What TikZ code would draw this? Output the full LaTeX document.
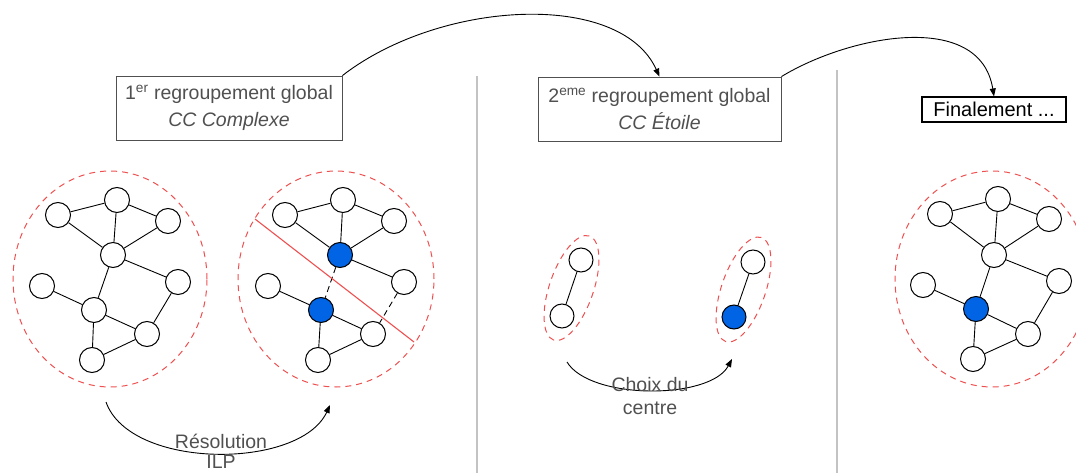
\documentclass[tikz,border=0pt]{standalone}
\usepackage{fontspec}
\setmainfont{Liberation Sans}
\usetikzlibrary{arrows.meta}
\definecolor{nodeblue}{RGB}{0,100,228}
\definecolor{dashred}{RGB}{238,80,80}
\definecolor{sepgray}{RGB}{195,195,195}
\definecolor{txtgray}{RGB}{80,80,80}
\tikzset{
  vtx/.style={circle,draw=black,line width=1pt,fill=white,minimum size=25pt,inner sep=0pt},
  vtxb/.style={vtx,fill=nodeblue},
  edge/.style={line width=0.9pt,black},
  dedge/.style={edge,dash pattern=on 6pt off 4pt},
  grp/.style={draw=dashred,line width=1pt,dash pattern=on 6pt off 5pt},
  cut/.style={draw=dashred,line width=1.1pt},
  sep/.style={draw=sepgray,line width=1.6pt},
  stagebox/.style={draw=txtgray,line width=0.9pt,text=txtgray,align=center,inner sep=0pt,
    font=\fontsize{19.5}{23}\selectfont},
  finbox/.style={draw=black,line width=1.1pt,text=black,inner sep=0pt,
    font=\fontsize{20}{23}\selectfont},
  lbl/.style={text=txtgray,align=center,inner sep=0pt,font=\fontsize{19.5}{21}\selectfont},
  arr/.style={line width=0.9pt,-{Triangle[length=8pt,width=6pt]}}
}
\begin{document}
\begin{tikzpicture}[x=1pt,y=-1pt]
\useasboundingbox (0,0) rectangle (1076,473);

% separators
\coordinate (s1t) at (477,76);  \coordinate (s1b) at (477,473);
\coordinate (s2t) at (837,70);  \coordinate (s2b) at (837,473);
\draw[sep] (s1t) -- (s1b);
\draw[sep] (s2t) -- (s2b);

% boxes
\node[stagebox,minimum width=226pt,minimum height=64pt] (box1) at (229,108)
  {1\textsuperscript{er} regroupement global\\[4pt]\textit{CC Complexe}};
\node[stagebox,minimum width=243pt,minimum height=64pt] (box2) at (659.5,109)
  {2\textsuperscript{eme} regroupement global\\[4pt]\textit{CC Étoile}};
\node[finbox,minimum width=144pt,minimum height=25pt] (box3) at (994,109.5)
  {Finalement ...};

\draw[arr] (box1.north east) .. controls (440,0) and (620,-10) .. (box2.north);
\draw[arr] (box2.north east) .. controls (850,35) and (980,10) .. (box3.north);

% graph 1
\draw[grp] (110,279) ellipse [x radius=97pt, y radius=108pt];
\foreach \n/\x/\y in {a/58/215,b/117/200,c/168/221,d/113/255,e/42/286,f/178/282,g/94/310,h/147/334,i/92/360}
  \node[vtx] (g1\n) at (\x,\y) {};
\foreach \u/\v in {a/b,b/c,a/d,b/d,c/d,d/f,d/g,e/g,g/h,g/i,h/i,f/h}
  \draw[edge] (g1\u) -- (g1\v);

% graph 2
\draw[grp] (336,279) ellipse [x radius=98pt, y radius=108pt];
\foreach \n/\x/\y/\s in {a/285/215/vtx,b/343/200/vtx,c/394/221/vtx,d/340/255/vtxb,e/268/286/vtx,f/404/282/vtx,g/321/310/vtxb,h/373/334/vtx,i/318/360/vtx}
  \node[\s] (g2\n) at (\x,\y) {};
\foreach \u/\v in {a/b,b/c,a/d,b/d,c/d,d/f,e/g,g/h,g/i,h/i}
  \draw[edge] (g2\u) -- (g2\v);
\draw[dedge] (g2d) -- (g2g);
\draw[dedge] (g2f) -- (g2h);
\coordinate (cuta) at (255,219);
\coordinate (cutb) at (414,342);
\draw[cut] (cuta) -- (cutb);

% arrow Resolution ILP
\coordinate (r1) at (106,402);
\coordinate (r2) at (330,405);
\draw[arr] (r1) .. controls (130,470) and (300,470) .. (r2);
\node[lbl] (res) at (221,451) {Résolution\\[-1pt]ILP};

% graph 3
\draw[grp,rotate around={71:(571.5,288)}] (571.5,288) ellipse [x radius=55pt, y radius=22pt];
\draw[grp,rotate around={71:(743.5,289.5)}] (743.5,289.5) ellipse [x radius=55pt, y radius=22pt];
\node[vtx,minimum size=24pt] (g3a) at (581,260) {};
\node[vtx,minimum size=24pt] (g3b) at (562,316) {};
\node[vtx,minimum size=24pt] (g3c) at (753,262) {};
\node[vtxb,minimum size=24pt] (g3d) at (734,317) {};
\draw[edge] (g3a) -- (g3b);
\draw[edge] (g3c) -- (g3d);
\coordinate (c1) at (567,362);
\coordinate (c2) at (732,359);
\draw[arr] (c1) .. controls (590,400) and (710,400) .. (c2);
\node[lbl] (choix) at (650,396) {Choix du\\[2pt]centre};

% graph 4
\draw[grp] (992,279) ellipse [x radius=97pt, y radius=108pt];
\foreach \n/\x/\y/\s in {a/940/214/vtx,b/998/199/vtx,c/1049/219/vtx,d/994/255/vtx,e/923/285/vtx,f/1059/281/vtx,g/976/309/vtxb,h/1028/334/vtx,i/973/359/vtx}
  \node[\s] (g4\n) at (\x,\y) {};
\foreach \u/\v in {a/b,b/c,a/d,b/d,c/d,d/f,d/g,e/g,g/h,g/i,h/i,f/h}
  \draw[edge] (g4\u) -- (g4\v);
\end{tikzpicture}
\end{document}
